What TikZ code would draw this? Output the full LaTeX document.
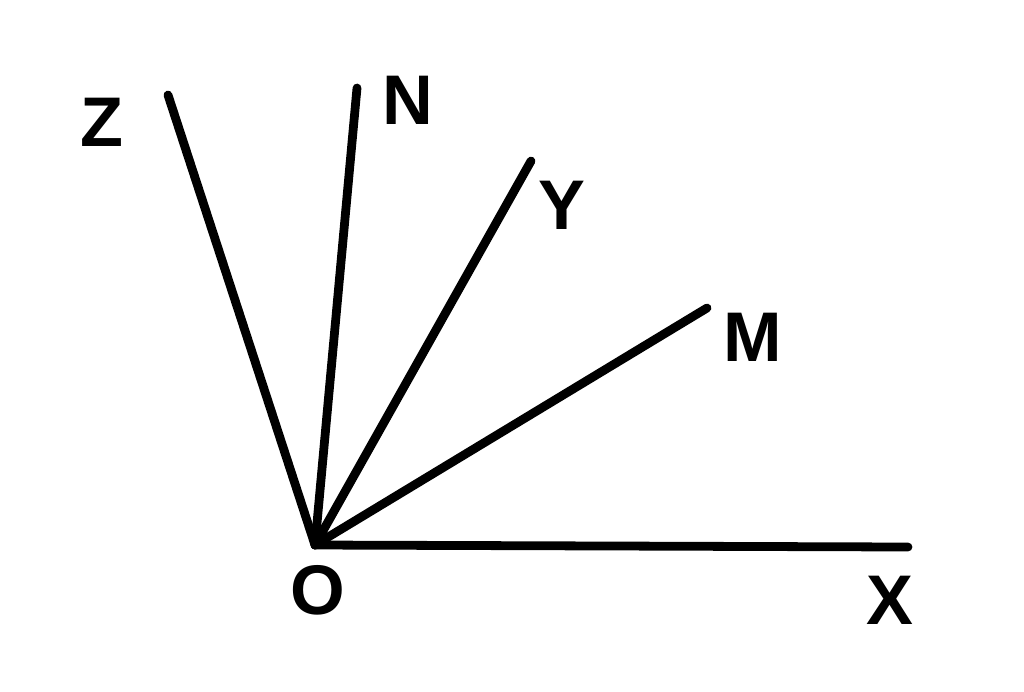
\documentclass[tikz,border=0pt]{standalone}
\usepackage{fontspec}
\setmainfont{Liberation Sans}
\usetikzlibrary{positioning}

\begin{document}
\begin{tikzpicture}[x=0.02cm,y=-0.02cm,
  ray/.style={line width=5pt,line cap=round,black},
  lbl/.style={font=\fontsize{40}{40}\selectfont\bfseries,inner sep=0pt}]

\useasboundingbox (0,0) rectangle (1024,691);

\coordinate (o) at (315,545);
\coordinate (x) at (908,547);
\coordinate (z) at (168,95);
\coordinate (n) at (357,88);
\coordinate (y) at (531,161);
\coordinate (m) at (707,308);

\draw[ray] (o) -- (x);
\draw[ray] (o) -- (z);
\draw[ray] (o) -- (n);
\draw[ray] (o) -- (y);
\draw[ray] (o) -- (m);

\node[lbl] (Olbl) at (318,590) {O};
\node[lbl] (Xlbl) at (890,600) {X};
\node[lbl] (Zlbl) at (102,122) {Z};
\node[lbl] (Nlbl) at (408,100) {N};
\node[lbl] (Ylbl) at (562,205) {Y};
\node[lbl] (Mlbl) at (753,337) {M};

\end{tikzpicture}
\end{document}
